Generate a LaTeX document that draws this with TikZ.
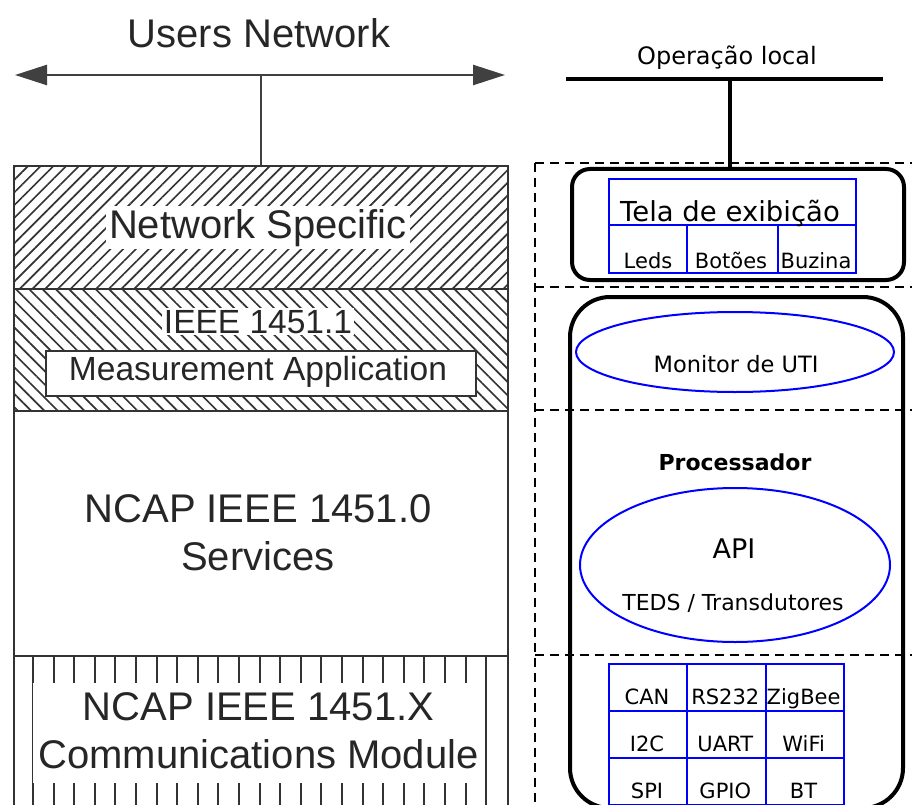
\documentclass[tikz,border=0pt]{standalone}
\usepackage{fontspec}
\setmainfont{Liberation Sans}
\newfontfamily\verd{DejaVu Sans}
\usetikzlibrary{arrows.meta, patterns.meta, shapes.geometric}

\begin{document}
\begin{tikzpicture}[x=1pt, y=-1pt,
    layer/.style={draw=black!80, line width=2pt, inner sep=0pt, anchor=north west},
    bigtxt/.style={font=\fontsize{40}{47}\selectfont, text=black!85, anchor=base},
    midtxt/.style={font=\fontsize{33.5}{40}\selectfont, text=black!85, anchor=base},
    zone/.style={draw, line width=2pt, dash pattern=on 9pt off 6pt},
    rbox/.style={draw, line width=4pt, inner sep=0pt, anchor=north west},
    blue cell/.style={draw=blue, line width=2pt, inner sep=0pt, anchor=north west},
    blue ring/.style={ellipse, draw=blue, line width=2pt, inner sep=0pt},
    vtxt/.style={font=\verd\fontsize{21}{25}\selectfont, anchor=base, inner sep=0pt}]
    \useasboundingbox (0,0) rectangle (912,805);

    % left column: IEEE 1451 stack
    \node[bigtxt] (usernet) at (259,48) {Users Network};
    \coordinate (netL) at (15,75);
    \coordinate (netR) at (505,75);
    \draw[line width=2.5pt, black!75, {Triangle[length=32pt,width=20pt]}-{Triangle[length=32pt,width=20pt]}] (netL) -- (netR);

    \node[layer, minimum width=494pt, minimum height=123pt,
          pattern={Lines[angle=45,distance=9pt,line width=1.7pt]}, pattern color=black!80] (netspec) at (13,165) {};
    \draw[line width=2.5pt, black!75] (netspec.north |- netL) -- (netspec.north);
    \node[bigtxt, fill=white, inner sep=3pt] (nslabel) at (258,238) {Network Specific};

    \node[layer, minimum width=494pt, minimum height=122pt,
          pattern={Lines[angle=-45,distance=9.4pt,line width=1.7pt]}, pattern color=black!80] (ieee1) at (13,288) {};
    \node[midtxt, fill=white, inner sep=2pt] (ieeelabel) at (258,333) {IEEE 1451.1};
    \node[layer, fill=white, minimum width=430pt, minimum height=45pt] (measbox) at (45,350) {};
    \node[midtxt] (measlabel) at (258,380) {Measurement Application};

    \node[layer, minimum width=494pt, minimum height=245pt] (services) at (13,410) {};
    \node[bigtxt] (ncap0) at (258,522) {NCAP IEEE 1451.0};
    \node[bigtxt] (srvlabel) at (258,570) {Services};

    \foreach \k in {0,...,22}
        \draw[line width=2pt, black!80] ({33+20.6*\k},655) -- ++(0,160);
    \fill[white] (33,683) rectangle (484,783);
    \node[layer, minimum width=494pt, minimum height=160pt] (commod) at (13,655) {};
    \node[bigtxt] (ncapx) at (258.5,720) {NCAP IEEE 1451.X};
    \node[bigtxt] (cmlabel) at (258.5,768) {Communications Module};

    % right column: local node
    \node[font=\verd\fontsize{24}{28}\selectfont, anchor=base] (oplocal) at (727,65) {Operação local};
    \coordinate (busL) at (566,79);
    \coordinate (busR) at (883,79);
    \coordinate (busTap) at (730,79);
    \draw[line width=4pt] (busL) -- (busR);

    % dashed zones
    \foreach \y in {163,287,410,655}
        \draw[zone] (535,\y) -- (915,\y);
    \draw[zone] (535,163) -- (535,815);

    \node[rbox, rounded corners=18pt, minimum width=332pt, minimum height=111pt] (telabox) at (570,167) {};
    \draw[line width=4pt] (busTap) -- (busTap |- telabox.north);

    \node[blue cell, minimum width=247pt, minimum height=46pt] (telacell) at (608,178) {};
    \node[blue cell, minimum width=78pt, minimum height=48pt] (ledcell) at (608,224) {};
    \node[blue cell, minimum width=91pt, minimum height=48pt] (botcell) at (686,224) {};
    \node[blue cell, minimum width=78pt, minimum height=48pt] (buzcell) at (777,224) {};
    \node[vtxt, font=\verd\fontsize{27.5}{32}\selectfont] (telatxt) at (730,221) {Tela de exibição};
    \node[vtxt] (ledtxt) at (648,268) {Leds};
    \node[vtxt] (bottxt) at (731,268) {Botões};
    \node[vtxt] (buztxt) at (816,268) {Buzina};

    \node[rbox, rounded corners=40pt, minimum width=333pt, minimum height=511pt] (procbox) at (568,295) {};
    \node[blue ring, minimum width=318pt, minimum height=80pt] (monitor) at (735,352) {};
    \node[vtxt, font=\verd\fontsize{22.5}{27}\selectfont] (montxt) at (736,372) {Monitor de UTI};
    \node[vtxt, font=\verd\bfseries\fontsize{22}{26}\selectfont] (proctxt) at (735,470) {Processador};
    \node[blue ring, minimum width=310pt, minimum height=154pt] (api) at (735,565) {};
    \node[vtxt, font=\verd\fontsize{27}{32}\selectfont] (apitxt) at (734,558) {API};
    \node[vtxt, font=\verd\fontsize{22}{26}\selectfont] (tedstxt) at (733,610) {TEDS / Transdutores};

    \foreach \txt [count=\i from 0] in {CAN,RS232,ZigBee,I2C,UART,WiFi,SPI,GPIO,BT}{
        \pgfmathtruncatemacro\gr{\i/3}
        \pgfmathtruncatemacro\gc{mod(\i,3)}
        \node[blue cell, minimum width=78.3pt, minimum height=47pt] (port\i) at ({608+78.3*\gc},{663+47*\gr}) {};
        \node[vtxt] (port\i txt) at ({647+78.3*\gc},{704+47*\gr}) {\txt};
    }
\end{tikzpicture}
\end{document}
